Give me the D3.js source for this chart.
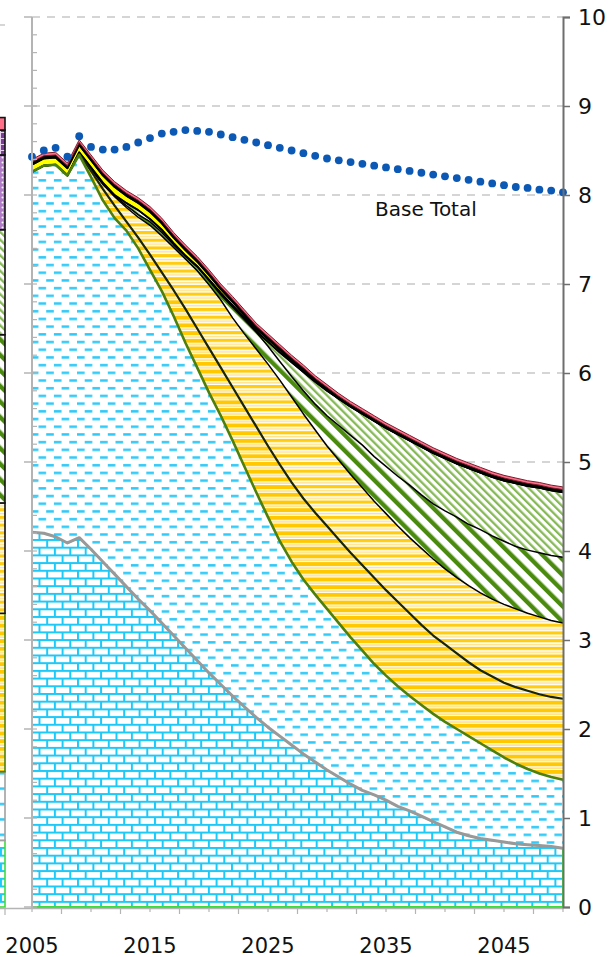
<!DOCTYPE html>
<html>
<head>
<meta charset="utf-8">
<script src="https://cdn.jsdelivr.net/npm/d3@7"></script>
<style>
  html, body { margin: 0; padding: 0; background: #fff; overflow: hidden; }
  svg { display: block; }
</style>
</head>
<body>
<div id="chart"></div>
<script>
// years on the x axis
const years = d3.range(2005, 2051);

// stacked boundaries (cumulative tops)
const brickTop = [4.21, 4.20, 4.16, 4.09, 4.15,
  4.02, 3.88, 3.74, 3.60, 3.46, 3.33, 3.19, 3.05, 2.91, 2.77,
  2.63, 2.50, 2.37, 2.25, 2.13, 2.02, 1.92, 1.82, 1.72, 1.63,
  1.54, 1.46, 1.38, 1.31, 1.26, 1.20, 1.13, 1.08, 1.02, 0.96,
  0.90, 0.84, 0.80, 0.77, 0.75, 0.73, 0.71, 0.70, 0.69, 0.68, 0.66];
const dashTop = [8.26, 8.33, 8.34, 8.22, 8.45,
  8.20, 7.94, 7.74, 7.60, 7.40, 7.16, 6.92, 6.64, 6.34, 6.06,
  5.78, 5.52, 5.24, 4.95, 4.66, 4.38, 4.11, 3.88, 3.68, 3.51,
  3.35, 3.19, 3.03, 2.88, 2.73, 2.60, 2.48, 2.37, 2.27, 2.17,
  2.08, 2.00, 1.92, 1.84, 1.76, 1.68, 1.61, 1.55, 1.50, 1.46, 1.43];
const stripeTop1 = [8.26, 8.33, 8.34, 8.22, 8.46,
  8.27, 8.07, 7.88, 7.70, 7.52, 7.33, 7.13, 6.93, 6.72, 6.50,
  6.28, 6.06, 5.84, 5.62, 5.40, 5.18, 4.97, 4.77, 4.59, 4.43,
  4.28, 4.13, 3.98, 3.84, 3.70, 3.56, 3.43, 3.30, 3.17, 3.05,
  2.95, 2.85, 2.75, 2.66, 2.59, 2.52, 2.47, 2.43, 2.39, 2.36, 2.34];
const stripeTop2 = [8.26, 8.33, 8.34, 8.22, 8.47,
  8.29, 8.12, 7.98, 7.86, 7.75, 7.66, 7.54, 7.41, 7.28, 7.15,
  6.99, 6.82, 6.62, 6.44, 6.27, 6.10, 5.92, 5.73, 5.54, 5.36,
  5.18, 5.02, 4.86, 4.71, 4.56, 4.42, 4.28, 4.15, 4.03, 3.91,
  3.80, 3.70, 3.61, 3.53, 3.46, 3.40, 3.35, 3.30, 3.26, 3.22, 3.19];
const greenTop = [8.26, 8.33, 8.34, 8.22, 8.47,
  8.30, 8.13, 7.99, 7.88, 7.78, 7.70, 7.58, 7.44, 7.31, 7.19,
  7.04, 6.88, 6.74, 6.60, 6.46, 6.30, 6.13, 5.96, 5.80, 5.65,
  5.52, 5.41, 5.30, 5.19, 5.06, 4.95, 4.84, 4.74, 4.63, 4.53,
  4.45, 4.38, 4.30, 4.24, 4.17, 4.11, 4.05, 4.01, 3.98, 3.95, 3.93];
const lightGreenTop = [8.26, 8.33, 8.34, 8.22, 8.48,
  8.31, 8.14, 8.00, 7.91, 7.83, 7.73, 7.61, 7.46, 7.32, 7.20,
  7.05, 6.90, 6.76, 6.62, 6.47, 6.35, 6.23, 6.12, 6.01, 5.90,
  5.80, 5.71, 5.62, 5.54, 5.46, 5.38, 5.31, 5.24, 5.17, 5.10,
  5.04, 4.98, 4.93, 4.88, 4.83, 4.79, 4.76, 4.73, 4.71, 4.68, 4.66];
const yellowTop = [8.34, 8.41, 8.42, 8.30, 8.56,
  8.39, 8.22, 8.09, 7.99, 7.91, 7.81, 7.68, 7.52, 7.38, 7.25,
  7.10, 6.94, 6.80, 6.65, 6.50, 6.38, 6.26, 6.14, 6.03, 5.91,
  5.81, 5.71, 5.62, 5.54, 5.46, 5.38, 5.31, 5.24, 5.17, 5.10,
  5.04, 4.98, 4.93, 4.88, 4.83, 4.79, 4.76, 4.73, 4.71, 4.68, 4.66];
const blackTop = [8.37, 8.44, 8.45, 8.33, 8.59,
  8.42, 8.25, 8.12, 8.02, 7.94, 7.84, 7.71, 7.55, 7.41, 7.28,
  7.13, 6.97, 6.83, 6.68, 6.53, 6.41, 6.29, 6.17, 6.06, 5.94,
  5.84, 5.74, 5.65, 5.57, 5.49, 5.41, 5.34, 5.27, 5.20, 5.13,
  5.07, 5.01, 4.96, 4.91, 4.86, 4.82, 4.79, 4.76, 4.74, 4.71, 4.69];
const pinkTop = [8.40, 8.47, 8.48, 8.36, 8.62,
  8.45, 8.28, 8.15, 8.05, 7.97, 7.87, 7.74, 7.58, 7.44, 7.31,
  7.16, 7.00, 6.86, 6.71, 6.56, 6.44, 6.32, 6.20, 6.09, 5.97,
  5.87, 5.77, 5.68, 5.60, 5.52, 5.44, 5.37, 5.30, 5.23, 5.16,
  5.10, 5.04, 4.99, 4.94, 4.89, 4.85, 4.82, 4.79, 4.77, 4.74, 4.72];

// dotted "Base Total" series
const baseTotal = [8.43, 8.50, 8.53, 8.43, 8.66,
  8.54, 8.51, 8.51, 8.54, 8.59, 8.64, 8.69, 8.71, 8.73, 8.72,
  8.71, 8.68, 8.65, 8.62, 8.59, 8.56, 8.53, 8.50, 8.47, 8.44,
  8.41, 8.39, 8.37, 8.35, 8.33, 8.31, 8.29, 8.27, 8.25, 8.23,
  8.21, 8.19, 8.17, 8.15, 8.13, 8.11, 8.09, 8.08, 8.06, 8.05, 8.03];

// right edge of the neighbouring chart's bar (segment heights, bottom to top)
const leftBar = [0.75, 0.77, 1.78, 1.24, 1.89, 1.18, 0.84, 0.28, 0.14];

const yTicks = d3.range(0, 11);
const xLabels = [2005, 2015, 2025, 2035, 2045];

const width = 616, height = 957;
const x = d3.scaleLinear().domain([2005, 2050]).range([32, 563]);
const y = d3.scaleLinear().domain([0, 10]).range([907, 17]);

const svg = d3.select("#chart").append("svg")
  .attr("width", width)
  .attr("height", height)
  .style("font-family", "'DejaVu Sans', Verdana, sans-serif");

// fill patterns
const defs = svg.append("defs");
function pattern(id, w, h, rot) {
  const p = defs.append("pattern")
    .attr("id", id)
    .attr("patternUnits", "userSpaceOnUse")
    .attr("width", w).attr("height", h);
  if (rot) p.attr("patternTransform", "rotate(" + rot + ")");
  p.append("rect").attr("width", w).attr("height", h).attr("fill", "#fff");
  return p;
}
const cyan = "#1ec8f7";
let p = pattern("brick", 15.4, 15.4);
p.append("rect").attr("x", 0).attr("y", 0).attr("width", 15.4).attr("height", 2).attr("fill", cyan);
p.append("rect").attr("x", 0).attr("y", 7.7).attr("width", 15.4).attr("height", 2).attr("fill", cyan);
p.append("rect").attr("x", 0).attr("y", 0).attr("width", 2).attr("height", 7.7).attr("fill", cyan);
p.append("rect").attr("x", 7.7).attr("y", 7.7).attr("width", 2).attr("height", 7.7).attr("fill", cyan);

p = pattern("dash", 15.4, 15.4);
p.append("rect").attr("x", 0).attr("y", 2).attr("width", 7.6).attr("height", 2.5).attr("fill", "#2fc9f8");
p.append("rect").attr("x", 7.7).attr("y", 9.7).attr("width", 7.6).attr("height", 2.5).attr("fill", "#2fc9f8");

p = pattern("stripe1", 10, 7.7);
p.append("rect").attr("y", 0).attr("width", 10).attr("height", 4).attr("fill", "#ffc800");
p.append("rect").attr("y", 5.2).attr("width", 10).attr("height", 1.4).attr("fill", "#ffdf70");

p = pattern("stripe2", 10, 7.7);
p.append("rect").attr("y", 0).attr("width", 10).attr("height", 3.2).attr("fill", "#ffcc10");
p.append("rect").attr("y", 4.8).attr("width", 10).attr("height", 1.4).attr("fill", "#ffe38a");

p = pattern("green", 11, 11, -45);
p.append("rect").attr("x", 0).attr("width", 4.4).attr("height", 11).attr("fill", "#4a8a0e");

p = pattern("lightgreen", 5.5, 5.5, -45);
p.append("rect").attr("x", 0).attr("width", 2.3).attr("height", 5.5).attr("fill", "#86b956");

p = pattern("lilac", 5, 5);
p.select("rect").attr("fill", "#b07cc6");
p.append("circle").attr("cx", 2.5).attr("cy", 2.5).attr("r", 1).attr("fill", "#fff");

p = pattern("purple", 6, 6);
p.select("rect").attr("fill", "#7d3c98");
p.append("rect").attr("width", 6).attr("height", 1).attr("fill", "#e6d0ee");
p.append("rect").attr("width", 1).attr("height", 6).attr("fill", "#e6d0ee");

// horizontal gridlines
svg.append("g")
  .selectAll("line")
  .data(yTicks.filter(d => d > 0))
  .join("line")
  .attr("x1", x(2005)).attr("x2", x(2050))
  .attr("y1", d => y(d)).attr("y2", d => y(d))
  .attr("stroke", "#c8c8c8")
  .attr("stroke-width", 1.5)
  .attr("stroke-dasharray", "8,7");

// neighbouring bar on the left edge (cropped)
const leftCum = [0].concat(Array.from(d3.cumsum(leftBar)));
const leftFills = ["url(#brick)", "url(#dash)", "url(#stripe1)", "url(#stripe2)",
  "url(#green)", "url(#lightgreen)", "url(#lilac)", "url(#purple)", "#ff6f88"];
const leftStrokes = ["#3ddc3d", "#a0a0a0", "#4d7f0e", "#111", "#111", "#111", "#111", "#111", "#111"];
svg.append("line").attr("x1", 0).attr("x2", 5).attr("y1", 25).attr("y2", 25)
  .attr("stroke", "#c8c8c8").attr("stroke-width", 1.5);
svg.append("g")
  .selectAll("rect")
  .data(leftBar)
  .join("rect")
  .attr("x", -40).attr("width", 45)
  .attr("y", (d, i) => y(leftCum[i + 1]))
  .attr("height", (d, i) => y(leftCum[i]) - y(leftCum[i + 1]))
  .attr("fill", (d, i) => leftFills[i])
  .attr("stroke", (d, i) => leftStrokes[i])
  .attr("stroke-width", 1.6);

// stacked areas
const bounds = [years.map(() => 0), brickTop, dashTop, stripeTop1, stripeTop2,
  greenTop, lightGreenTop, yellowTop, blackTop, pinkTop];
const layers = [
  { fill: "url(#brick)", stroke: "#3ddc3d", sw: 2 },
  { fill: "url(#dash)", stroke: "none", sw: 0 },
  { fill: "url(#stripe1)", stroke: "none", sw: 0 },
  { fill: "url(#stripe2)", stroke: "none", sw: 0 },
  { fill: "url(#green)", stroke: "none", sw: 0 },
  { fill: "url(#lightgreen)", stroke: "none", sw: 0 },
  { fill: "#ffff00", stroke: "#000", sw: 1.8 },
  { fill: "#000", stroke: "#000", sw: 1.5 },
  { fill: "#ff6f88", stroke: "#7a1c2e", sw: 1 }
];
const plot = svg.append("g");
layers.forEach((L, k) => {
  const lo = bounds[k], hi = bounds[k + 1];
  const area = d3.area()
    .x((d, i) => x(years[i]))
    .y0((d, i) => y(lo[i]))
    .y1((d, i) => y(hi[i]));
  plot.append("path")
    .datum(years)
    .attr("d", area)
    .attr("fill", L.fill)
    .attr("stroke", L.stroke)
    .attr("stroke-width", L.sw)
    .attr("stroke-linejoin", "round");
});

// boundary lines
const line = arr => d3.line()
  .x((d, i) => x(years[i])).y((d, i) => y(arr[i]))(years);
const borders = [
  { data: lightGreenTop, color: "#000", w: 1.5 },
  { data: greenTop, color: "#000", w: 1.5 },
  { data: stripeTop2, color: "#000", w: 1.5 },
  { data: stripeTop1, color: "#17260a", w: 2.2 },
  { data: dashTop, color: "#4d7f0e", w: 2.6 },
  { data: brickTop, color: "#999", w: 3 }
];
borders.forEach(b => {
  plot.append("path")
    .attr("d", line(b.data))
    .attr("fill", "none")
    .attr("stroke", b.color)
    .attr("stroke-width", b.w)
    .attr("stroke-linejoin", "round");
});

// Base Total dots
svg.append("g")
  .selectAll("circle")
  .data(baseTotal)
  .join("circle")
  .attr("cx", (d, i) => x(years[i]))
  .attr("cy", d => y(d))
  .attr("r", 3.9)
  .attr("fill", "#0b59b4");

svg.append("text")
  .attr("x", 375).attr("y", 216)
  .attr("font-size", 20)
  .attr("fill", "#111")
  .text("Base Total");

// left axis (no labels)
const axisGrey = "#b4b4b4";
svg.append("line")
  .attr("x1", 32).attr("x2", 32).attr("y1", y(10)).attr("y2", y(0) + 1)
  .attr("stroke", axisGrey).attr("stroke-width", 2);
svg.append("g").selectAll("line")
  .data(yTicks)
  .join("line")
  .attr("x1", 24).attr("x2", 32)
  .attr("y1", d => y(d)).attr("y2", d => y(d))
  .attr("stroke", axisGrey).attr("stroke-width", 1.5);
svg.append("g").selectAll("line")
  .data(d3.range(0, 50).map(d => d * 0.2))
  .join("line")
  .attr("x1", 32).attr("x2", 37)
  .attr("y1", d => y(d)).attr("y2", d => y(d))
  .attr("stroke", axisGrey).attr("stroke-width", 1.2);

// bottom axis
svg.append("line")
  .attr("x1", 0).attr("x2", x(2050))
  .attr("y1", y(0) + 1.5).attr("y2", y(0) + 1.5)
  .attr("stroke", axisGrey).attr("stroke-width", 1.5);
svg.append("g").selectAll("line")
  .data(d3.range(2005, 2050.1, 2.5))
  .join("line")
  .attr("x1", d => x(d)).attr("x2", d => x(d))
  .attr("y1", y(0) + 1).attr("y2", (d, i) => y(0) + (i % 2 ? 7 : 5))
  .attr("stroke", axisGrey).attr("stroke-width", 1.2);
svg.append("line")
  .attr("x1", 5).attr("x2", 5).attr("y1", y(0)).attr("y2", y(0) + 8)
  .attr("stroke", axisGrey).attr("stroke-width", 1.2);

svg.append("g").selectAll("text")
  .data(xLabels)
  .join("text")
  .attr("x", d => x(d))
  .attr("y", 953)
  .attr("text-anchor", "middle")
  .attr("font-size", 21)
  .attr("fill", "#111")
  .text(d => d);

// right axis
const rightAxis = d3.axisRight(y).tickValues(yTicks).tickSize(7).tickPadding(8).tickFormat(d3.format("d"));
const ra = svg.append("g")
  .attr("transform", "translate(" + x(2050) + ",0)")
  .call(rightAxis);
ra.select(".domain").attr("stroke", "#6e6e6e").attr("stroke-width", 2);
ra.selectAll(".tick line").attr("stroke", "#6e6e6e").attr("stroke-width", 1.5);
ra.selectAll(".tick text")
  .attr("font-size", 22)
  .attr("font-family", "'DejaVu Sans', Verdana, sans-serif")
  .attr("fill", "#111");
</script>
</body>
</html>
